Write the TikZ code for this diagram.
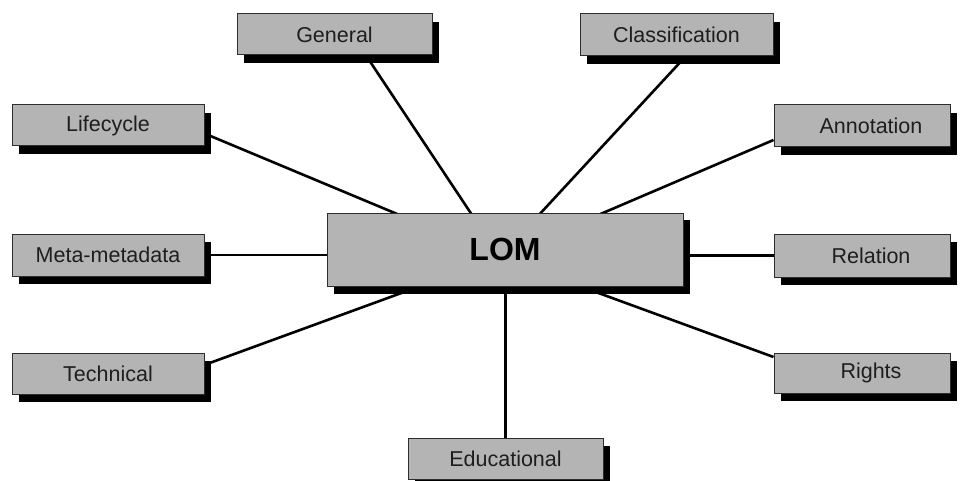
\documentclass[tikz,border=0pt]{standalone}
\usepackage{fontspec}
\setmainfont{Liberation Sans}
\usetikzlibrary{shadows,backgrounds}
\definecolor{boxgray}{RGB}{180,180,180}
\definecolor{edgegray}{RGB}{45,45,45}
\definecolor{labelink}{RGB}{30,30,30}
\begin{document}
\begin{tikzpicture}[x=1pt,y=-1pt,
  part/.style={draw=edgegray, line width=1pt, fill=boxgray, text=labelink,
    minimum width=192pt, minimum height=41pt, inner sep=0pt,
    font=\fontsize{21.5}{24}\selectfont,
    drop shadow={shadow xshift=7pt, shadow yshift=-8pt, fill=black, opacity=1}},
  rightpart/.style={part, minimum width=176pt,
    execute at begin node={\hspace*{18pt}}},
  hubbox/.style={part, minimum width=356pt, minimum height=73pt,
    font=\fontsize{32}{36}\selectfont\bfseries, text=black,
    drop shadow={shadow xshift=7pt, shadow yshift=-7pt, fill=black, opacity=1}},
  link/.style={line width=2.6pt, black}]
\useasboundingbox (0,0) rectangle (963,481);

% central element
\node[hubbox] (lom) at (505,249.5) {LOM};

% categories around it
\node[part] (life) at (108,125.5) {Lifecycle};
\node[part, minimum height=42pt] (meta) at (108,255) {Meta-metadata};
\node[part] (tech) at (108,373.5) {Technical};
\node[part, minimum width=195pt] (gen) at (334.5,34.5) {General};
\node[part, minimum width=193pt, minimum height=42pt] (cls) at (676.5,35) {Classification};
\node[rightpart, minimum height=42pt] (ann) at (862,126) {Annotation};
\node[rightpart, minimum height=43pt] (rel) at (862,255.5) {Relation};
\node[rightpart, minimum height=40pt] (rig) at (862,373) {Rights};
\node[part, minimum width=195pt] (edu) at (505.5,458.5) {Educational};

% spokes, drawn underneath the boxes
\coordinate (hub) at ([xshift=-5pt,yshift=-7.5pt]lom.center);
\begin{pgfonlayer}{background}
  \draw[link] (hub) -- ([yshift=-8pt]life.east);
  \draw[link] (hub) -- ([xshift=31.5pt]gen.south);
  \draw[link] (hub) -- ([xshift=9pt]cls.south);
  \draw[link] (hub) -- ([yshift=-14pt]ann.west);
  \draw[link] (hub) -- ([yshift=8.6pt]tech.east);
  \draw[link] (hub) -- ([yshift=16pt]rig.west);
  \draw[link] (meta.east) -- (meta.east -| lom.west);
  \draw[link] (rel.west) -- (rel.west -| lom.east);
  \draw[link] (edu.north) -- (edu.north |- lom.south);
\end{pgfonlayer}
\end{tikzpicture}
\end{document}
